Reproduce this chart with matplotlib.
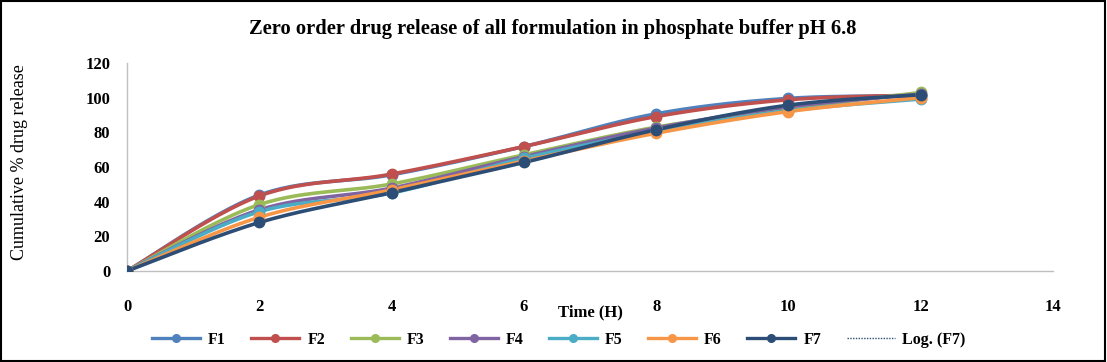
import numpy as np
import matplotlib
matplotlib.use("Agg")
import matplotlib.pyplot as plt
from matplotlib.lines import Line2D
from matplotlib.patches import Rectangle

time_h = [0, 2, 4, 6, 8, 10, 12]
F1 = [0, 43.8, 55.5, 71.8, 90.7, 99.6, 101.0]
F2 = [0, 43.3, 55.9, 71.8, 89.1, 98.8, 101.5]
F3 = [0, 38.3, 50.2, 67.0, 83.0, 93.6, 103.0]
F4 = [0, 35.3, 47.8, 66.0, 82.5, 94.7, 102.0]
F5 = [0, 34.2, 45.0, 65.0, 80.5, 92.5, 99.2]
F6 = [0, 31.0, 46.8, 63.5, 79.5, 92.0, 100.0]
F7 = [0, 28.0, 45.2, 62.6, 81.5, 95.7, 101.7]
series_names = ["F1", "F2", "F3", "F4", "F5", "F6", "F7"]
series_values = [F1, F2, F3, F4, F5, F6, F7]
colors = ["#4F81BD", "#C0504D", "#9BBB59", "#8064A2", "#4BACC6", "#F79646", "#2C4D75"]

title = "Zero order drug release of all formulation in phosphate buffer pH 6.8"
xlabel = "Time (H)"
ylabel = "Cumulative % drug release"
xticks = [0, 2, 4, 6, 8, 10, 12, 14]
yticks = [0, 20, 40, 60, 80, 100, 120]

serif = ["Liberation Serif", "DejaVu Serif"]


def smooth(x, y, n=30):
    x = np.asarray(x, float)
    y = np.asarray(y, float)
    px = np.concatenate([[x[0]], x, [x[-1]]])
    py = np.concatenate([[y[0]], y, [y[-1]]])
    xs, ys = [], []
    t = np.linspace(0, 1, n)
    for i in range(1, len(px) - 2):
        p0 = np.array([px[i - 1], py[i - 1]])
        p1 = np.array([px[i], py[i]])
        p2 = np.array([px[i + 1], py[i + 1]])
        p3 = np.array([px[i + 2], py[i + 2]])
        c1 = p1 + (p2 - p0) / 6
        c2 = p2 - (p3 - p1) / 6
        b = ((1 - t) ** 3)[:, None] * p1 + (3 * (1 - t) ** 2 * t)[:, None] * c1 \
            + (3 * (1 - t) * t ** 2)[:, None] * c2 + (t ** 3)[:, None] * p2
        xs.append(b[:, 0])
        ys.append(b[:, 1])
    return np.concatenate(xs), np.concatenate(ys)


fig = plt.figure(figsize=(11.07, 3.62), dpi=100)
ax = fig.add_axes([127 / 1107, 1 - 271 / 362, (1053 - 127) / 1107, (271 - 63) / 362])

for name, vals, c in zip(series_names, series_values, colors):
    sx, sy = smooth(time_h, vals)
    ax.plot(sx, sy, color=c, lw=2.6, solid_capstyle="round", zorder=2)
    ax.plot(time_h, vals, "o", color=c, ms=7.5, zorder=3)

ax.set_xlim(0, 14)
ax.set_ylim(0, 120)
ax.set_xticks(xticks)
ax.set_yticks(yticks)
for s in ["top", "right"]:
    ax.spines[s].set_visible(False)
for s in ["left", "bottom"]:
    ax.spines[s].set_color("#BFBFBF")
    ax.spines[s].set_linewidth(1.0)
ax.tick_params(length=0, pad=12)
ax.tick_params(axis="x", pad=20)
for lab in ax.get_xticklabels() + ax.get_yticklabels():
    lab.set_fontfamily(serif)
    lab.set_fontweight("bold")
    lab.set_fontsize(12)

fig.text(590 / 1107, 1 - 312 / 362, xlabel, ha="center", va="center",
         fontsize=12, fontweight="bold", family=serif)
fig.text(20 / 1107, 1 - 162 / 362, ylabel, ha="center", va="center", rotation=90,
         fontsize=13, family=serif)
fig.text(553 / 1107, 1 - 29 / 362, title, ha="center", va="center",
         fontsize=14.8, fontweight="bold", family=serif)

handles = [Line2D([], [], color=c, lw=2.4, marker="o", ms=5.5) for c in colors]
handles.append(Line2D([], [], color="#2C4D75", lw=1.0, ls=(0, (1, 1))))
labels = series_names + ["Log. (F7)"]
leg = fig.legend(handles, labels, loc="center", bbox_to_anchor=(559 / 1107, 1 - 340 / 362),
                 ncol=8, frameon=False, handlelength=3.0, columnspacing=1.6,
                 handletextpad=0.5, prop={"family": serif, "weight": "bold", "size": 11.5})

fig.patches.append(Rectangle((0.001, 0.002), 0.997, 0.995, transform=fig.transFigure,
                             fill=False, edgecolor="black", lw=1.5))

fig.savefig("out.png", dpi=100)
